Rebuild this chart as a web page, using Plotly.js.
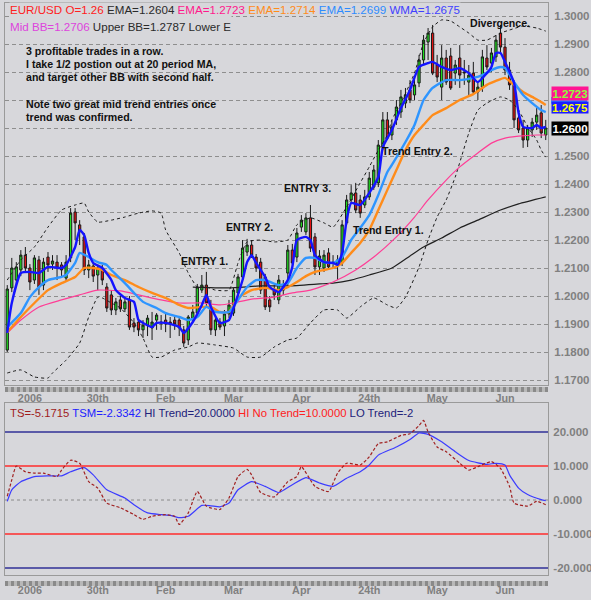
<!DOCTYPE html>
<html><head><meta charset="utf-8">
<script src="https://cdn.plot.ly/plotly-3.0.1.min.js"></script>
<style>html,body{margin:0;padding:0;background:#d7d7db;}#chart{width:591px;height:600px;}</style>
</head><body><div id="chart"></div>
<script>
// ---------------- DATA ----------------
const open = [1.1807,1.2029,1.2057,1.2093,1.2146,1.2100,1.2057,1.2129,1.2039,1.2139,1.2114,1.2121,1.2111,1.2064,1.2136,1.2300,1.2254,1.2211,1.2093,1.2107,
1.2075,1.2093,1.2032,1.2004,1.1950,1.1986,1.1954,1.1986,1.1904,1.1907,1.1879,1.1896,1.1886,1.1914,1.1907,1.1914,1.1907,1.1914,1.1914,1.1879,
1.1843,1.1921,1.1939,1.2021,1.2039,1.1961,1.1879,1.1907,1.1893,1.1936,1.1939,1.2011,1.2068,1.2157,1.2182,1.2139,1.2121,1.2068,1.1986,1.2021,
1.1986,1.2021,1.2082,1.2164,1.2139,1.2246,1.2229,1.2279,1.2211,1.2104,1.2100,1.2154,1.2121,1.2111,1.2118,1.2261,1.2343,1.2368,1.2343,1.2325,
1.2354,1.2389,1.2404,1.2532,1.2629,1.2575,1.2629,1.2657,1.2689,1.2736,1.2718,1.2761,1.2843,1.2907,1.2939,1.2825,1.2746,1.2850,1.2857,1.2796,
1.2850,1.2800,1.2764,1.2796,1.2729,1.2746,1.2850,1.2832,1.2854,1.2939,1.2889,1.2807,1.2754,1.2636,1.2600,1.2557,1.2593,1.2621,1.2654,1.2575];
const high = [1.2039,1.2136,1.2121,1.2164,1.2175,1.2114,1.2146,1.2143,1.2136,1.2157,1.2146,1.2146,1.2121,1.2146,1.2314,1.2314,1.2271,1.2225,1.2129,1.2121,
1.2111,1.2111,1.2046,1.2021,1.1993,1.2000,1.1993,1.2000,1.1921,1.1921,1.1914,1.1932,1.1943,1.1939,1.1932,1.1943,1.1925,1.1932,1.1921,1.1893,
1.1932,1.1968,1.2043,1.2075,1.2086,1.1986,1.1929,1.1921,1.1950,1.1986,1.2029,1.2079,1.2200,1.2204,1.2200,1.2150,1.2136,1.2079,1.2000,1.2039,
1.2075,1.2057,1.2182,1.2186,1.2243,1.2289,1.2296,1.2325,1.2225,1.2164,1.2164,1.2171,1.2146,1.2146,1.2271,1.2361,1.2396,1.2404,1.2361,1.2379,
1.2443,1.2468,1.2557,1.2657,1.2657,1.2629,1.2700,1.2736,1.2743,1.2771,1.2779,1.2861,1.2932,1.2957,1.2968,1.2861,1.2896,1.2879,1.2886,1.2843,
1.2896,1.2843,1.2825,1.2836,1.2764,1.2879,1.2896,1.2886,1.2932,1.2968,1.2921,1.2836,1.2771,1.2664,1.2629,1.2611,1.2636,1.2671,1.2682,1.2629];
const low = [1.1800,1.2014,1.2039,1.2071,1.2086,1.2021,1.2043,1.2004,1.2021,1.2086,1.2093,1.2057,1.2071,1.2050,1.2121,1.2200,1.2182,1.2075,1.2064,1.2050,
1.2021,1.2039,1.1943,1.1932,1.1932,1.1943,1.1943,1.1879,1.1871,1.1857,1.1850,1.1857,1.1843,1.1879,1.1879,1.1871,1.1850,1.1879,1.1857,1.1818,
1.1825,1.1907,1.1932,1.2011,1.1964,1.1861,1.1857,1.1879,1.1857,1.1921,1.1929,1.2000,1.2057,1.2143,1.2136,1.2086,1.2007,1.1950,1.1943,1.1986,
1.1971,1.2004,1.2036,1.2104,1.2121,1.2229,1.2218,1.2157,1.2075,1.2075,1.2086,1.2093,1.2100,1.2057,1.2107,1.2254,1.2332,1.2296,1.2279,1.2314,
1.2343,1.2379,1.2389,1.2521,1.2557,1.2557,1.2611,1.2636,1.2671,1.2689,1.2700,1.2746,1.2825,1.2843,1.2789,1.2764,1.2700,1.2754,1.2736,1.2754,
1.2743,1.2754,1.2718,1.2718,1.2700,1.2729,1.2807,1.2800,1.2836,1.2871,1.2789,1.2736,1.2600,1.2582,1.2529,1.2532,1.2568,1.2593,1.2564,1.2557];
const close = [1.2025,1.2100,1.2104,1.2146,1.2100,1.2050,1.2136,1.2032,1.2121,1.2111,1.2125,1.2100,1.2093,1.2121,1.2296,1.2261,1.2229,1.2093,1.2111,1.2071,
1.2100,1.2057,1.1957,1.1950,1.1979,1.1954,1.1979,1.1889,1.1889,1.1879,1.1896,1.1921,1.1907,1.1932,1.1904,1.1900,1.1900,1.1900,1.1886,1.1832,
1.1925,1.1943,1.2032,1.2039,1.1975,1.1879,1.1914,1.1889,1.1936,1.1968,1.2021,1.2068,1.2171,1.2182,1.2146,1.2100,1.2021,1.1961,1.1961,1.2004,
1.2057,1.2039,1.2164,1.2118,1.2225,1.2271,1.2279,1.2171,1.2104,1.2143,1.2146,1.2104,1.2118,1.2129,1.2254,1.2343,1.2368,1.2307,1.2296,1.2354,
1.2421,1.2450,1.2539,1.2629,1.2564,1.2604,1.2675,1.2711,1.2718,1.2700,1.2754,1.2843,1.2914,1.2939,1.2796,1.2782,1.2850,1.2764,1.2743,1.2825,
1.2789,1.2797,1.2789,1.2729,1.2746,1.2854,1.2818,1.2868,1.2914,1.2889,1.2807,1.2754,1.2629,1.2593,1.2557,1.2600,1.2621,1.2646,1.2582,1.2600];

// indicator lines (bar index, value)
const wmaIdx = [0,1,3,5,7,9,12,13,15,16,17,18,19,21,23,24,26,28,29,30,32,33,35,38,39,41,43,44,45,47,49,50,52,53,54,55,57,58,60,62,63,64,66,67,68,70,72,73,74,75,76,78,80,82,83,85,87,89,91,93,94,96,98,100,102,104,106,107,108,109,110,112,113,114,116,117,118,119];
const wmaVal = [1.1868,1.1975,1.2082,1.2086,1.2082,1.2104,1.2100,1.2111,1.2175,1.2236,1.2218,1.2154,1.2118,1.2100,1.2057,1.2021,1.1993,1.1979,1.1914,1.1904,1.1889,1.1904,1.1904,1.1889,1.1868,1.1907,1.1968,1.2004,1.1961,1.1904,1.1914,1.1957,1.2057,1.2121,1.2146,1.2118,1.2068,1.2032,1.2014,1.2057,1.2104,1.2200,1.2211,1.2200,1.2146,1.2121,1.2118,1.2111,1.2154,1.2271,1.2332,1.2325,1.2368,1.2425,1.2532,1.2593,1.2671,1.2736,1.2818,1.2832,1.2836,1.2818,1.2807,1.2814,1.2796,1.2764,1.2796,1.2818,1.2868,1.2868,1.2836,1.2761,1.2654,1.2604,1.2600,1.2611,1.2600,1.2604];
const emaFastIdx = [0,3,5,7,9,12,13,15,16,18,20,22,23,26,28,30,33,35,38,40,42,44,46,49,51,53,55,57,60,62,64,66,68,70,72,74,76,78,80,82,84,85,88,90,92,94,97,100,103,105,107,109,110,112,114,116,118,119];
const emaFastVal = [1.1889,1.1939,1.1996,1.2032,1.2057,1.2068,1.2075,1.2118,1.2154,1.2139,1.2121,1.2111,1.2093,1.2046,1.2011,1.1979,1.1957,1.1939,1.1925,1.1914,1.1925,1.1961,1.1943,1.1943,1.1986,1.2032,1.2057,1.2057,1.2039,1.2046,1.2100,1.2136,1.2136,1.2121,1.2118,1.2139,1.2200,1.2243,1.2289,1.2361,1.2443,1.2468,1.2550,1.2611,1.2700,1.2743,1.2771,1.2771,1.2779,1.2789,1.2807,1.2818,1.2814,1.2764,1.2718,1.2689,1.2664,1.2657];
const emaMidIdx = [0,3,6,9,12,15,17,19,21,23,26,29,32,35,38,40,43,45,47,49,51,54,57,60,62,64,66,68,70,72,74,76,78,80,82,84,86,88,90,92,94,97,100,103,106,108,110,112,114,116,118,119];
const emaMidVal = [1.1871,1.1925,1.1975,1.2021,1.2046,1.2068,1.2100,1.2100,1.2093,1.2075,1.2057,1.2032,1.2011,1.1993,1.1968,1.1957,1.1961,1.1961,1.1943,1.1943,1.1993,1.2021,1.2029,1.2021,1.2032,1.2050,1.2071,1.2086,1.2093,1.2100,1.2118,1.2154,1.2189,1.2236,1.2307,1.2379,1.2450,1.2521,1.2575,1.2611,1.2646,1.2671,1.2700,1.2721,1.2754,1.2768,1.2779,1.2754,1.2729,1.2711,1.2693,1.2682];
const emaSlowIdx = [0,3,7,12,16,20,25,29,34,38,43,47,50,54,59,63,67,72,77,81,86,90,93,97,100,104,107,110,113,117,119];
const emaSlowVal = [1.1868,1.1914,1.1961,1.1986,1.2004,1.2021,1.2018,1.2004,1.1986,1.1975,1.1975,1.1968,1.1975,1.1989,1.1996,1.2011,1.2021,1.2050,1.2093,1.2139,1.2211,1.2282,1.2343,1.2414,1.2461,1.2511,1.2546,1.2564,1.2571,1.2575,1.2575];
const emaLongIdx = [41,49,56,62,69,72,76,80,85,89,92,96,100,104,109,113,119];
const emaLongVal = [1.2032,1.2029,1.2036,1.2036,1.2043,1.2046,1.2057,1.2075,1.2100,1.2143,1.2175,1.2207,1.2243,1.2271,1.2307,1.2329,1.2354];
const bbUpIdx = [0,3,6,9,12,15,17,18,20,23,26,29,32,34,35,38,40,42,44,46,49,51,53,56,59,62,64,67,70,72,75,78,80,82,84,85,87,90,92,94,96,98,100,102,104,106,109,111,114,117,119];
const bbUpVal = [1.2057,1.2129,1.2175,1.2246,1.2307,1.2325,1.2332,1.2300,1.2264,1.2271,1.2282,1.2296,1.2304,1.2296,1.2236,1.2154,1.2082,1.2032,1.2032,1.2021,1.2021,1.2118,1.2193,1.2200,1.2193,1.2200,1.2254,1.2279,1.2261,1.2246,1.2318,1.2404,1.2461,1.2521,1.2575,1.2629,1.2689,1.2796,1.2904,1.2961,1.2986,1.2982,1.2961,1.2939,1.2914,1.2914,1.2939,1.2950,1.2964,1.2957,1.2946];
const bbLoIdx = [0,3,6,9,10,13,16,18,20,21,23,25,28,30,32,34,37,40,42,46,50,53,56,59,62,64,67,70,73,75,78,81,84,86,88,91,93,95,97,99,102,104,106,109,111,113,115,117,118,119];
const bbLoVal = [1.1725,1.1736,1.1711,1.1707,1.1725,1.1771,1.1832,1.1925,1.1996,1.1993,1.1975,1.1957,1.1904,1.1850,1.1782,1.1782,1.1807,1.1818,1.1832,1.1825,1.1814,1.1782,1.1782,1.1818,1.1843,1.1850,1.1904,1.1950,1.1950,1.1921,1.1961,1.1993,1.1968,1.1957,1.1996,1.2104,1.2200,1.2282,1.2343,1.2425,1.2582,1.2664,1.2689,1.2711,1.2700,1.2664,1.2604,1.2557,1.2521,1.2496];

// trend oscillator panel
const tsIdx = [0,1,2,4,6,8,11,12,14,16,18,20,22,25,28,30,32,35,37,38,40,42,44,47,49,51,53,54,56,59,62,64,65,68,71,73,75,78,80,82,84,87,89,91,92,93,95,97,100,102,104,107,109,111,112,115,117,119];
const tsVal = [1.1,5.9,10,8.3,7.9,7.9,6.9,8.8,11.7,10.8,5.4,3.5,-0.9,-2.3,-4.3,-5.7,-4.8,-4.3,-4.8,-7.2,-3.8,2.5,-1.8,-2.8,0.6,6.9,9,7.4,2.2,0.9,5.4,6.9,9.8,4,2.5,7.9,10.8,10.3,12.7,16.6,17.1,19,19.5,21.9,23.4,20,15.6,14.2,10.8,8.8,9.8,11.3,9.3,4,-0.9,-1.8,-0.4,-1.4];
const tsmIdx = [0,1,3,6,9,12,14,17,19,22,26,28,31,34,36,38,40,43,45,47,49,51,54,57,60,63,66,69,72,75,78,80,82,86,89,91,93,96,99,102,106,108,110,111,113,115,118,119];
const tsmVal = [-0.4,3,5.4,6.9,7.1,7.1,8.3,9.5,7.4,3,0.6,-1.4,-3.8,-4.3,-4.5,-5.2,-4.8,-1.6,-1.7,-2,-0.9,3,5.4,4,2.2,4.5,6.6,5,4,6.4,8.3,10.3,13.2,15.6,17.8,19.7,19.3,17.1,14.2,11.6,10.5,10.8,10.3,7.4,3.5,1.6,0.1,-0.2];
const trendLevels = [20, 10, -10, -20];

// axis tick labels (1.2700 and 1.2600 are hidden behind the value tags)
const dateTickIdx = [5,20,35,50,65,80,95,110];
const dateTickText = ['2006','30th','Feb','Mar','Apr','24th','May','Jun'];
const priceTicks = [1.17,1.18,1.19,1.20,1.21,1.22,1.23,1.24,1.25,1.26,1.27,1.28,1.29,1.30];
const priceTickText = ['1.1700','1.1800','1.1900','1.2000','1.2100','1.2200','1.2300','1.2400','1.2500','','','1.2800','1.2900','1.3000'];
const oscTicks = [20,10,0,-10,-20];
const oscTickText = ['20.000','10.000','0.000','-10.000','-20.000'];

// last-value tags on the price axis
const tagVals = [1.2675,1.2723,1.2600];
const tagText = ['1.2675','1.2723','1.2600'];
const tagBg = ['#1c1cff','#ff1493','#000000'];
const tagFg = ['#ffff00','#8cff3c','#ffffff'];
const stripVal = 1.2699;   // light-blue EMA tag, mostly covered
const stripBg = '#3a96ff';

const noteLines = ['3 profitable trades in a row.','I take 1/2 postion out at 20 period MA,','and target other BB with second half.','','Note two great mid trend entries once','trend was confirmed.'];

// ---------------- LAYOUT HELPERS ----------------
const W=591,H=600,ML=5,MR=43,MT=3,MB=25;
const PW=W-ML-MR, PH=H-MT-MB;
const px = x => (x-ML)/PW;
const py = y => (H-MB-y)/PH;
const BG='#d7d7db';
const FONT='Arial, "Liberation Sans", sans-serif';
const idx = open.map((_,i)=>i);

const traces = [];
traces.push({type:'candlestick', x:idx, open, high, low, close, xaxis:'x', yaxis:'y',
  increasing:{line:{color:'#1a1a1a',width:1}, fillcolor:'#20e020'},
  decreasing:{line:{color:'#1a1a1a',width:1}, fillcolor:'#e41414'},
  whiskerwidth:0, hoverinfo:'skip', showlegend:false});
function line(x,y,color,width,dash,xa,ya){
  return {type:'scatter',mode:'lines',x,y,xaxis:xa||'x',yaxis:ya||'y',
    line:{color,width,dash:dash||'solid',shape:'spline',smoothing:0.5},hoverinfo:'skip',showlegend:false};
}
traces.push(line(bbUpIdx,bbUpVal,'#1a1a1a',1,'3px,3px'));
traces.push(line(bbLoIdx,bbLoVal,'#1a1a1a',1,'3px,3px'));
traces.push(line(emaLongIdx,emaLongVal,'#202020',1.2));
traces.push(line(emaSlowIdx,emaSlowVal,'#ff3d96',1.2));
traces.push(line(emaMidIdx,emaMidVal,'#ff8c1a',2.4));
traces.push(line(emaFastIdx,emaFastVal,'#2e95ff',2.4));
traces.push(line(wmaIdx,wmaVal,'#1414ff',2.4));
traces.push(line(tsmIdx,tsmVal,'#3c3cff',1.2,'solid','x2','y2'));
traces.push(line(tsIdx,tsVal,'#a02020',1.2,'3px,2px','x2','y2'));

const shapes = [];
const levelColor = v => Math.abs(v)===20 ? '#5a5aa8' : '#ff2d2d';
trendLevels.forEach(v=>shapes.push({type:'line',xref:'x2 domain',yref:'y2',x0:0,x1:1,y0:v,y1:v,line:{color:levelColor(v),width:Math.abs(v)===20?2:1.5},layer:'below'}));
shapes.push({type:'line',xref:'x2 domain',yref:'y2',x0:0,x1:1,y0:0,y1:0,line:{color:'#8a8a8a',width:1,dash:'3px,3px'},layer:'below'});
[389.5,583.5].forEach(y=>{
  shapes.push({type:'line',xref:'paper',yref:'paper',x0:0,x1:1,y0:py(y),y1:py(y),line:{color:'#b8b8b8',width:5}});
  shapes.push({type:'line',xref:'paper',yref:'paper',x0:0,x1:1,y0:py(y),y1:py(y),line:{color:'#8a8a8a',width:5,dash:'3px,3px'}});
});
// light-blue tag strip (its text is covered by the neighbouring tags)
shapes.push({type:'rect',xref:'paper',yref:'y',x0:px(551),x1:px(587),y0:stripVal-0.0012,y1:stripVal+0.0012,fillcolor:stripBg,line:{width:0}});

const ann = [];
const sp = (c,t)=>`<span style="color:${c}">${t}</span>`;
ann.push({xref:'paper',yref:'paper',x:px(9),y:py(9.5),xanchor:'left',yanchor:'middle',showarrow:false,
  text: sp('#ff2020','EUR/USD O=1.26')+' '+sp('#2a2a2a','EMA=1.2604')+' '+sp('#ff1a8c','EMA=1.2723')+' '+sp('#ff8c1a','EMA=1.2714')+' '+sp('#2e8cff','EMA=1.2699')+' '+sp('#4040ff','WMA=1.2675'),
  font:{family:FONT,size:11.6,color:'#2a2a2a'},bgcolor:BG,borderpad:0,height:12});
ann.push({xref:'paper',yref:'paper',x:px(9),y:py(26.5),xanchor:'left',yanchor:'middle',showarrow:false,
  text: sp('#dd44dd','Mid BB=1.2706')+' '+sp('#2a2a2a','Upper BB=1.2787 Lower E'),
  font:{family:FONT,size:11.6,color:'#2a2a2a'},bgcolor:BG,borderpad:0,height:20});
noteLines.forEach((t,k)=>{ if(t) ann.push({xref:'paper',yref:'paper',x:px(24),y:py(50.7+k*13.3),xanchor:'left',yanchor:'middle',showarrow:false,text:'<b>'+t+'</b>',font:{family:FONT,size:10.6,color:'#111'}}); });
const labels = [['ENTRY 1.',204.5,261],['ENTRY 2.',249,227],['ENTRY 3.',307.5,188],['Trend Entry 1.',388,230],['Trend Entry 2.',418,151],['Divergence.',500.5,23]];
labels.forEach(([t,x,y])=>ann.push({xref:'paper',yref:'paper',x:px(x),y:py(y),xanchor:'center',yanchor:'middle',showarrow:false,text:'<b>'+t+'</b>',font:{family:FONT,size:10.6,color:'#111'}}));
tagVals.forEach((v,k)=>ann.push({xref:'paper',yref:'y',x:px(551),y:v,xanchor:'left',yanchor:'middle',showarrow:false,text:'<b>'+tagText[k]+'</b>',
  font:{family:FONT,size:11.5,color:tagFg[k]},bgcolor:tagBg[k],borderpad:0,width:36,height:k===0?11:13}));
ann.push({xref:'paper',yref:'paper',x:px(8),y:py(413),xanchor:'left',yanchor:'middle',showarrow:false,
  text: sp('#a01c1c','TS=-5.1715')+' '+sp('#2020ff','TSM=-2.3342')+' '+sp('#22227a','HI Trend=20.0000')+' '+sp('#ff2020','HI No Trend=10.0000')+' '+sp('#22227a','LO Trend=-2'),
  font:{family:FONT,size:11.3,color:'#222'}});

const axTickFont = {family:FONT,size:11.5,color:'#808080',weight:'bold'};
const xTickFont = {family:FONT,size:10.8,color:'#808080',weight:'bold'};
const layout = {
  width:W,height:H,margin:{l:ML,r:MR,t:MT,b:MB,pad:0},
  paper_bgcolor:BG,plot_bgcolor:BG,showlegend:false,dragmode:false,
  xaxis:{domain:[0,1],anchor:'y',range:[-0.5,119.5],rangeslider:{visible:false},showgrid:false,zeroline:false,
    showline:true,mirror:true,linecolor:'#9a9a9a',linewidth:1,ticks:'',tickvals:dateTickIdx,ticktext:dateTickText,tickfont:xTickFont,ticklabelstandoff:3},
  xaxis2:{domain:[0,1],anchor:'y2',matches:'x',range:[-0.5,119.5],rangeslider:{visible:false},showgrid:false,zeroline:false,
    showline:true,mirror:true,linecolor:'#9a9a9a',linewidth:1,ticks:'',tickvals:dateTickIdx,ticktext:dateTickText,tickfont:xTickFont,ticklabelstandoff:5},
  yaxis:{domain:[py(385),1],anchor:'x',side:'right',range:[1.30-(385-16)/2800,1.30+(16-3)/2800],tickvals:priceTicks,ticktext:priceTickText,
    showgrid:true,gridcolor:'#8e8e8e',griddash:'4px,3px',gridwidth:1,zeroline:false,showline:true,mirror:true,linecolor:'#9a9a9a',ticks:'',tickfont:axTickFont,ticklabelstandoff:3},
  yaxis2:{domain:[0,py(403)],anchor:'x2',side:'right',range:[-20-(575-568)/3.4,20+(432-403)/3.4],tickvals:oscTicks,ticktext:oscTickText,
    showgrid:false,zeroline:false,showline:true,mirror:true,linecolor:'#9a9a9a',ticks:'',tickfont:axTickFont,ticklabelstandoff:2},
  shapes, annotations:ann
};
Plotly.newPlot('chart',traces,layout,{staticPlot:true,displayModeBar:false});
</script></body></html>
